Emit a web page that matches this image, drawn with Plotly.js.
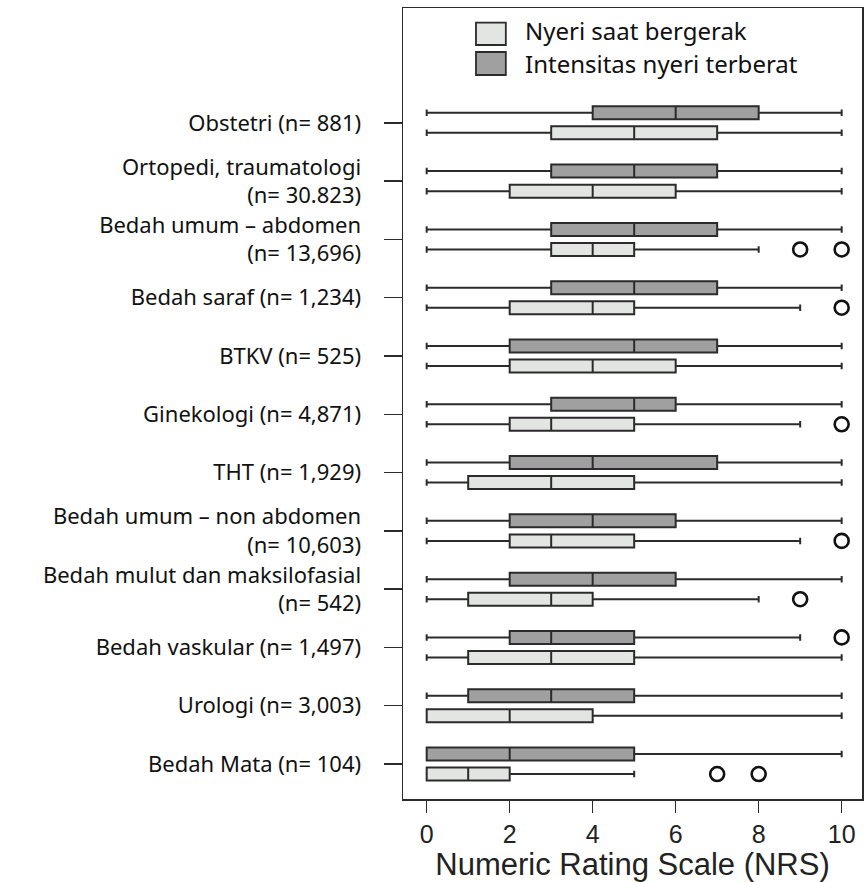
<!DOCTYPE html>
<html>
<head>
<meta charset="utf-8">
<script src="https://cdn.plot.ly/plotly-3.0.1.min.js"></script>
<style>html,body{margin:0;padding:0;background:#fff;}#chart{width:867px;height:882px;}</style>
</head>
<body>
<div id="chart"></div>
<script>
// Categories (top to bottom)
var categories = [
  "Obstetri (n= 881)",
  "Ortopedi, traumatologi<br>(n= 30.823)",
  "Bedah umum – abdomen<br>(n= 13,696)",
  "Bedah saraf (n= 1,234)",
  "BTKV (n= 525)",
  "Ginekologi (n= 4,871)",
  "THT (n= 1,929)",
  "Bedah umum – non abdomen<br>(n= 10,603)",
  "Bedah mulut dan maksilofasial<br>(n= 542)",
  "Bedah vaskular (n= 1,497)",
  "Urologi (n= 3,003)",
  "Bedah Mata (n= 104)"
];

// Intensitas nyeri terberat (dark)
var terberatLower = [0,0,0,0,0,0,0,0,0,0,0,0];
var terberatQ1    = [4,3,3,3,2,3,2,2,2,2,1,0];
var terberatMed   = [6,5,5,5,5,5,4,4,4,3,3,2];
var terberatQ3    = [8,7,7,7,7,6,7,6,6,5,5,5];
var terberatUpper = [10,10,10,10,10,10,10,10,10,9,10,10];
var terberatOutliers = [[],[],[],[],[],[],[],[],[],[10],[],[]];

// Nyeri saat bergerak (light)
var gerakLower = [0,0,0,0,0,0,0,0,0,0,0,0];
var gerakQ1    = [3,2,3,2,2,2,1,2,1,1,0,0];
var gerakMed   = [5,4,4,4,4,3,3,3,3,3,2,1];
var gerakQ3    = [7,6,5,5,6,5,5,5,4,5,4,2];
var gerakUpper = [10,10,8,9,10,9,10,9,8,10,10,5];
var gerakOutliers = [[],[],[9,10],[10],[],[10],[],[10],[9],[],[],[7,8]];

var xTicks = [0,2,4,6,8,10];
var legendNames = ["Nyeri saat bergerak", "Intensitas nyeri terberat"];

var darkFill = "#a0a0a0", lightFill = "#e3e5e3", edge = "#2b2b2b";
var catIndex = categories.map(function(c, i) { return i; });
var OFF = 0.172, BW = 0.223;

function boxTrace(name, shift, lower, q1, med, q3, upper, fill) {
  return {
    type: "box", orientation: "h", name: name,
    y: catIndex.map(function(i) { return i + shift; }),
    lowerfence: lower, q1: q1, median: med, q3: q3, upperfence: upper,
    width: BW,
    fillcolor: fill,
    line: {color: edge, width: 2},
    whiskerwidth: 0.5,
    boxpoints: false,
    showlegend: false, hoverinfo: "x"
  };
}

function outlierTrace(name, shift, outl) {
  var xs = [], ys = [];
  outl.forEach(function(arr, i) {
    arr.forEach(function(v) { xs.push(v); ys.push(i + shift); });
  });
  return {
    type: "scatter", mode: "markers", name: name, x: xs, y: ys,
    marker: {symbol: "circle-open", size: 14, color: "#111", line: {width: 2.6, color: "#111"}},
    showlegend: false, hoverinfo: "x"
  };
}

var traces = [
  boxTrace(legendNames[1], -OFF, terberatLower, terberatQ1, terberatMed, terberatQ3, terberatUpper, darkFill),
  boxTrace(legendNames[0], OFF, gerakLower, gerakQ1, gerakMed, gerakQ3, gerakUpper, lightFill),
  outlierTrace(legendNames[1], -OFF, terberatOutliers),
  outlierTrace(legendNames[0], OFF, gerakOutliers)
];

var layout = {
  width: 867, height: 882,
  margin: {l: 403, r: 5, t: 8, b: 83},
  paper_bgcolor: "#fff", plot_bgcolor: "#fff",
  boxmode: "overlay",
  xaxis: {
    range: [-0.571, 10.49], tickvals: xTicks, ticktext: xTicks.map(String),
    showgrid: false, zeroline: false,
    ticks: "outside", ticklen: 12, tickwidth: 1.5, tickcolor: edge,
    showline: true, mirror: true, linecolor: edge, linewidth: 1.5,
    tickfont: {family: "Liberation Sans, Arial, sans-serif", size: 25, color: "#222"},
    title: {text: "Numeric Rating Scale (NRS)", font: {family: "Liberation Sans, Arial, sans-serif", size: 31, color: "#222"}, standoff: 14},
    automargin: false
  },
  yaxis: {
    range: [11.60, -1.97], tickvals: catIndex, ticktext: categories,
    showgrid: false, zeroline: false,
    ticks: "outside", ticklen: 18, tickwidth: 1.5, tickcolor: edge,
    ticklabelstandoff: 18,
    showline: true, mirror: true, linecolor: edge, linewidth: 1.5,
    tickfont: {family: "Noto Sans, Open Sans, sans-serif", size: 22, color: "#111"},
    automargin: false
  },
  shapes: [
    {type: "rect", xref: "paper", yref: "paper", x0: 0.159, x1: 0.224, y0: 0.9532, y1: 0.9814,
     fillcolor: lightFill, line: {color: edge, width: 1.8}},
    {type: "rect", xref: "paper", yref: "paper", x0: 0.159, x1: 0.224, y0: 0.9153, y1: 0.9444,
     fillcolor: darkFill, line: {color: edge, width: 1.8}}
  ],
  annotations: [
    {xref: "paper", yref: "paper", x: 0.262, y: 0.972, xanchor: "left", yanchor: "middle", showarrow: false,
     text: legendNames[0], font: {family: "Noto Sans, Open Sans, sans-serif", size: 24, color: "#111"}},
    {xref: "paper", yref: "paper", x: 0.262, y: 0.9298, xanchor: "left", yanchor: "middle", showarrow: false,
     text: legendNames[1], font: {family: "Noto Sans, Open Sans, sans-serif", size: 24, color: "#111"}}
  ]
};

Plotly.newPlot("chart", traces, layout, {displayModeBar: false, staticPlot: true});
</script>
</body>
</html>
